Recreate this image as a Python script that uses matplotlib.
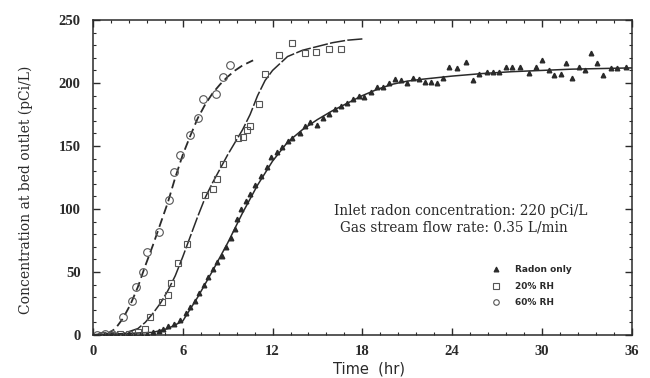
import matplotlib
matplotlib.use("Agg")
import matplotlib.pyplot as plt
from matplotlib.ticker import MultipleLocator

# --- measured points ---
radon_t = [0.4, 0.8, 1.2, 1.6, 2.0, 2.4, 2.8, 3.2, 3.6, 4.0, 4.4, 4.7, 5.0, 5.4, 5.8,
           6.2, 6.5, 6.8, 7.1, 7.4, 7.7, 8.0, 8.3, 8.6, 8.9, 9.2, 9.5, 9.6, 9.9, 10.2,
           10.5, 10.8, 11.2, 11.6, 11.9, 12.3, 12.6, 13.0, 13.3, 13.8, 14.2, 14.5, 15.0,
           15.4, 15.8, 16.2, 16.6, 17.0, 17.4, 17.8, 18.1, 18.6, 19.0, 19.4, 19.8, 20.2,
           20.6, 21.0, 21.4, 21.8, 22.2, 22.6, 23.0, 23.4, 23.8, 24.3, 24.9, 25.4, 25.8,
           26.3, 26.7, 27.1, 27.6, 28.0, 28.5, 29.1, 29.6, 30.0, 30.5, 30.8, 31.25, 31.6,
           32.0, 32.5, 32.9, 33.3, 33.7, 34.1, 34.6, 35.0, 35.6]
radon_c = [0, 1, 0, 1, 0, 1, 0, 1, 1, 2, 3, 5, 7, 9, 12,
           17, 22, 27, 33, 40, 46, 52, 58, 63, 70, 77, 84, 92, 100, 106,
           112, 119, 126, 133, 141, 145, 149, 154, 156, 160, 166, 169, 167,
           172, 175, 179, 182, 184, 187, 190, 189, 193, 197, 197, 200, 203,
           202, 200, 204, 203, 201, 201, 200, 204, 213, 212, 217, 202, 207,
           209, 209, 209, 213, 213, 213, 208, 213, 218, 210, 206, 207, 216,
           204, 213, 210, 224, 216, 206, 212, 212, 213]

rh20_t = [0.6, 1.2, 1.8, 2.4, 3.0, 3.5, 3.8, 4.6, 5.0, 5.2, 5.7, 6.3, 7.5, 8.0, 8.3,
          8.7, 9.7, 10.0, 10.3, 10.5, 11.1, 11.5, 12.4, 13.3, 14.2, 14.9, 15.8, 16.6]
rh20_c = [0, 0, 1, 1, 2, 5, 14, 26, 32, 41, 57, 72, 111, 116, 124,
          136, 156, 157, 163, 166, 183, 207, 222, 232, 224, 225, 227, 227]

rh60_t = [0.3, 0.8, 1.3, 2.0, 2.6, 2.85, 3.35, 3.6, 4.4, 5.1, 5.4, 5.8, 6.5, 7.0,
          7.35, 8.25, 8.7, 9.15]
rh60_c = [0, 1, 1, 14, 27, 38, 50, 66, 82, 107, 129, 143, 159, 172,
          187, 191, 205, 214]

# --- fitted curves ---
radon_fit_t = [0, 4, 5, 6, 7, 8, 9, 10, 11, 12, 13, 14, 15, 16, 17, 18, 19, 20,
               21, 22, 24, 26, 28, 30, 32, 34, 36]
radon_fit_c = [0, 2, 5, 11, 30, 51, 73, 97, 119, 138, 153, 163, 171, 178, 184, 190,
               195, 199, 201.5, 203, 205.5, 207.5, 209, 210, 211, 211.5, 212]

rh20_fit_t = [0, 2, 3, 3.5, 4, 4.5, 5, 5.5, 6, 6.5, 7, 7.5, 8, 8.5, 9, 9.5, 10,
              10.5, 11, 11.5, 12, 13, 14, 15, 16, 17, 18]
rh20_fit_c = [0, 1, 5, 10, 17, 25, 35, 47, 62, 78, 94, 109, 121, 132, 143, 153, 163,
              175, 190, 202, 210, 221, 226, 229, 232, 234, 235]

rh60_fit_t = [0, 1, 1.5, 2, 2.5, 3, 3.5, 4, 4.5, 5, 5.5, 6, 6.5, 7, 7.5, 8, 8.5,
              9, 9.5, 10, 10.7]
rh60_fit_c = [0, 1, 5, 13, 24, 38, 55, 71, 88, 105, 125, 143, 158, 172, 183, 192,
              199, 205, 210, 214, 218]

ink = "#2a2a2a"

fig = plt.figure(figsize=(6.5, 3.78), dpi=100)
ax = fig.add_axes([0.143, 0.114, 0.829, 0.833])

ax.plot(radon_fit_t, radon_fit_c, color=ink, lw=1.1)
ax.plot(rh20_fit_t, rh20_fit_c, color=ink, lw=1.1, dashes=(10, 1.5))
ax.plot(rh60_fit_t, rh60_fit_c, color=ink, lw=1.3, dashes=(5, 2.5))

ax.plot(radon_t, radon_c, ls="none", marker="^", ms=3.3, color=ink)
ax.plot(rh20_t, rh20_c, ls="none", marker="s", ms=4.5, mfc="none", mec="#555555", mew=0.8)
ax.plot(rh60_t, rh60_c, ls="none", marker="o", ms=5.5, mfc="none", mec="#555555", mew=0.8)

ax.set_xlim(0, 36)
ax.set_ylim(0, 250)
ax.xaxis.set_major_locator(MultipleLocator(6))
ax.xaxis.set_minor_locator(MultipleLocator(1.2))
ax.yaxis.set_major_locator(MultipleLocator(50))
ax.yaxis.set_minor_locator(MultipleLocator(10))
ax.tick_params(which="both", direction="in", top=True, right=True, color=ink)
ax.tick_params(which="major", length=5, width=1)
ax.tick_params(which="minor", length=2.5, width=0.8)
ax.tick_params(axis="x", pad=7)
ax.tick_params(axis="y", pad=9)
for lab in ax.get_xticklabels() + ax.get_yticklabels():
    lab.set_family("Liberation Serif")
    lab.set_fontsize(10.5)
    lab.set_fontweight("bold")
    lab.set_color(ink)
for s in ax.spines.values():
    s.set_color(ink)
    s.set_linewidth(1.1)

ax.set_xlabel("Time  (hr)", family="DejaVu Sans", fontsize=10.5, color=ink)
ax.xaxis.set_label_coords(0.513, -0.085)
ax.set_ylabel("Concentration at bed outlet (pCi/L)", family="DejaVu Serif",
              fontsize=10, color=ink)
ax.yaxis.set_label_coords(-0.112, 0.46)

ax.text(24.6, 98, "Inlet radon concentration: 220 pCi/L", ha="center", va="center",
        family="DejaVu Serif", fontsize=9.8, color=ink)
ax.text(24.1, 85, "Gas stream flow rate: 0.35 L/min", ha="center", va="center",
        family="DejaVu Serif", fontsize=9.8, color=ink)

leg_rows = [(52, "^", "Radon only", ink), (38.5, "s", "20% RH", "none"),
            (26, "o", "60% RH", "none")]
for y, m, lab, fc in leg_rows:
    ax.plot([26.9], [y], marker=m, ms=3.5 if m == "^" else 4, mfc=fc,
            mec="#555555" if fc == "none" else ink, color=ink, mew=0.8)
    ax.text(28.2, y, lab, ha="left", va="center", family="DejaVu Sans",
            fontsize=6.5, fontweight="bold", color=ink)

fig.savefig("out.png", dpi=100)
